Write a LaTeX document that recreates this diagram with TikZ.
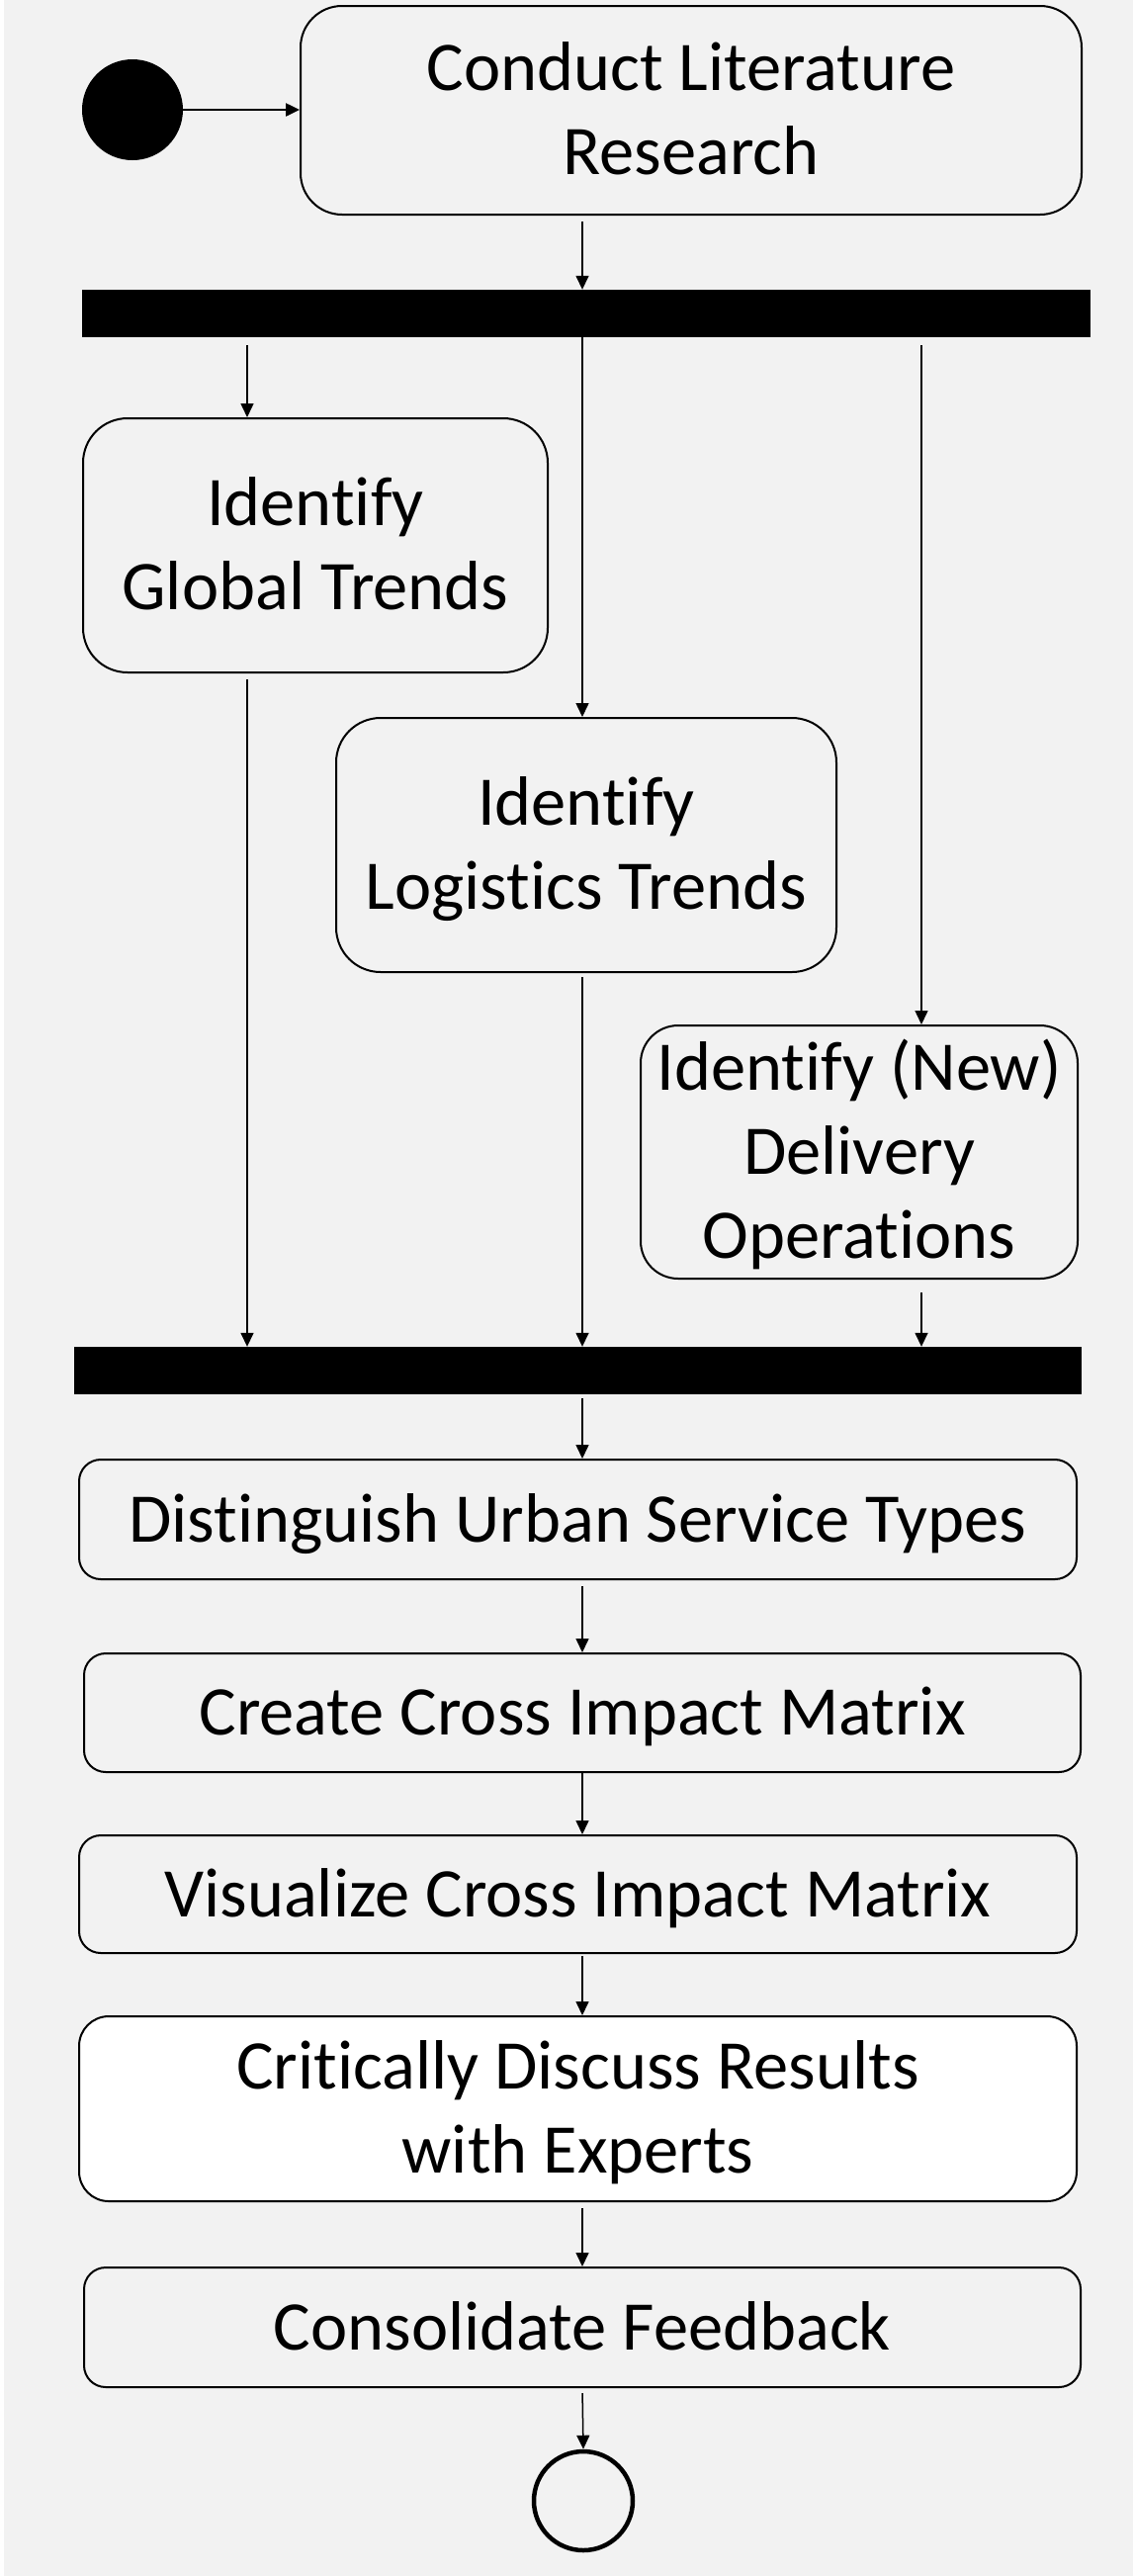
\documentclass[tikz,border=0pt]{standalone}
\usepackage{fontspec}
\setmainfont[Ligatures={NoCommon}]{Carlito}
\usetikzlibrary{arrows.meta}
\begin{document}
\begin{tikzpicture}[x=1pt,y=-1pt,
  act/.style={draw=black, line width=2pt, rounded corners=#1, inner sep=0pt,
    align=center, font=\fontsize{70.5}{85}\selectfont, text height=45pt, text depth=0pt},
  act/.default=22pt,
  two/.style={text height=130pt},
  three/.style={text height=215pt},
  bar/.style={fill=black, draw=none, minimum width=1020pt, minimum height=48pt, inner sep=0pt},
  arr/.style={-{Triangle[length=14pt,width=13pt]}, line width=1.5pt},
]
\useasboundingbox (0,0) rectangle (1146,2605);
\fill[white] (0,0) rectangle (1146,2605);
\fill[black!5] (4,0) rectangle (1146,2605);

\coordinate (colL) at (250,0);
\coordinate (colM) at (589,0);
\coordinate (colR) at (932,0);

\node[circle, fill=black, minimum size=102pt, inner sep=0pt] (start) at (134,111) {};
\node[act=42pt, two, minimum width=790pt, minimum height=211pt] (lit) at (699,111.5) {Conduct Literature\\Research};
\node[bar] (bar1) at (593,317) {};
\node[act=45pt, two, minimum width=470pt, minimum height=257pt] (gl) at (319,551.5) {Identify\\Global Trends};
\node[act=45pt, two, minimum width=506pt, minimum height=257pt] (lg) at (593,854.5) {Identify\\Logistics Trends};
\node[act=38pt, three, minimum width=442pt, minimum height=256pt] (dl) at (869,1165) {Identify (New)\\Delivery\\Operations};
\node[bar, minimum width=1019pt] (bar2) at (584.5,1386) {};
\node[act, minimum width=1009pt, minimum height=121pt] (dist) at (584.5,1536.5) {Distinguish Urban Service Types};
\node[act, minimum width=1008pt, minimum height=120pt] (create) at (589,1732) {Create Cross Impact Matrix};
\node[act, minimum width=1009pt, minimum height=119pt] (vis) at (584.5,1915.5) {Visualize Cross Impact Matrix};
\node[act=30pt, two, fill=white, minimum width=1009pt, minimum height=187pt] (crit) at (584.5,2132.5) {Critically Discuss Results\\with Experts};
\node[act, minimum width=1008pt, minimum height=121pt] (cons) at (589,2353.5) {Consolidate Feedback};
\node[circle, draw=black, line width=4.5pt, minimum size=100pt, inner sep=0pt] (end) at (590,2529) {};

\draw[arr, line width=2.5pt] (start) -- (lit.west |- start);
\draw[arr, shorten <=6pt] (lit.south -| colM) -- (bar1.north -| colM);
\draw[arr, shorten <=8pt] (bar1.south -| colL) -- (gl.north -| colL);
\draw[arr] (bar1.south -| colM) -- (lg.north -| colM);
\draw[arr, shorten <=8pt] (bar1.south -| colR) -- (dl.north -| colR);
\draw[arr, shorten <=6pt] (gl.south -| colL) -- (bar2.north -| colL);
\draw[arr, shorten <=4pt] (lg.south -| colM) -- (bar2.north -| colM);
\draw[arr, shorten <=13pt] (dl.south -| colR) -- (bar2.north -| colR);
\draw[arr, shorten <=4pt] (bar2.south -| colM) -- (dist.north -| colM);
\draw[arr, shorten <=6pt] (dist.south -| colM) -- (create.north -| colM);
\draw[arr] (create.south -| colM) -- (vis.north -| colM);
\draw[arr, shorten <=2pt] (vis.south -| colM) -- (crit.north -| colM);
\draw[arr, shorten <=6pt] (crit.south -| colM) -- (cons.north -| colM);
\draw[arr, shorten <=5pt] (cons.south -| colM) -- (end.north);
\end{tikzpicture}
\end{document}
